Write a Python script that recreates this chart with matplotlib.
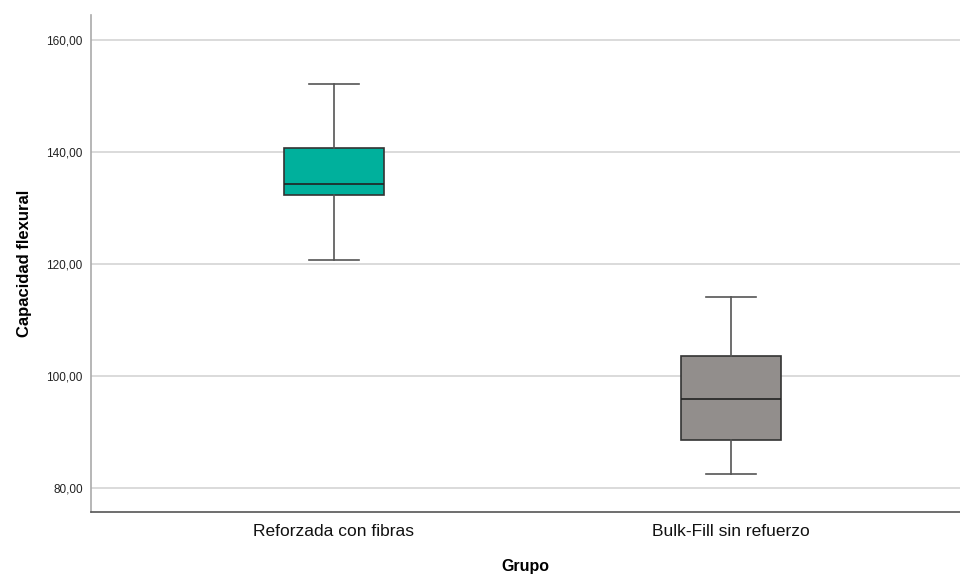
import matplotlib.pyplot as plt

# datos
grupos = ['Reforzada con fibras', 'Bulk-Fill sin refuerzo']
whislo = [120.7, 82.5]
q1 = [132.4, 88.5]
med = [134.3, 95.8]
q3 = [140.7, 103.6]
whishi = [152.2, 114.1]
colores = ['#00B09C', '#928E8C']

plt.rcParams['font.family'] = ['Liberation Sans', 'DejaVu Sans']

fig = plt.figure(figsize=(9.6, 5.77), dpi=100)
ax = fig.add_axes([0.0948, 0.1127, 0.9052, 0.8613])

stats = []
for i, g in enumerate(grupos):
    stats.append({'label': g, 'whislo': whislo[i], 'q1': q1[i], 'med': med[i],
                  'q3': q3[i], 'whishi': whishi[i], 'fliers': []})

bp = ax.bxp(stats, positions=[0, 1], widths=0.25, patch_artist=True,
            showfliers=False,
            boxprops=dict(edgecolor='#333333', linewidth=1.2),
            medianprops=dict(color='#222222', linewidth=1.2),
            whiskerprops=dict(color='#555555', linewidth=1.2),
            capprops=dict(color='#555555', linewidth=1.2),
            capwidths=0.125, zorder=3)
for patch, c in zip(bp['boxes'], colores):
    patch.set_facecolor(c)

ax.set_xlim(-0.612, 1.577)
ax.set_ylim(75.7, 164.5)
ax.set_yticks([80, 100, 120, 140, 160])
ax.set_yticklabels(['80,00', '100,00', '120,00', '140,00', '160,00'], fontsize=8.5, color='#222222')
ax.set_xticks([0, 1])
ax.set_xticklabels(grupos, fontsize=12.5, color='#111111')
ax.tick_params(axis='both', length=0, pad=6)
ax.tick_params(axis='x', pad=9)

ax.grid(True, axis='y', color='#d4d4d4', linewidth=1.2, zorder=0)
ax.set_axisbelow(True)

for s in ['top', 'right']:
    ax.spines[s].set_visible(False)
ax.spines['left'].set_color('#aaaaaa')
ax.spines['left'].set_linewidth(1.2)
ax.spines['bottom'].set_color('#555555')
ax.spines['bottom'].set_linewidth(1.2)

ax.set_ylabel('Capacidad flexural', fontsize=12, fontweight='bold', labelpad=10)
ax.set_xlabel('Grupo', fontsize=11.5, fontweight='bold', labelpad=14)

fig.savefig('out.png', dpi=100)
